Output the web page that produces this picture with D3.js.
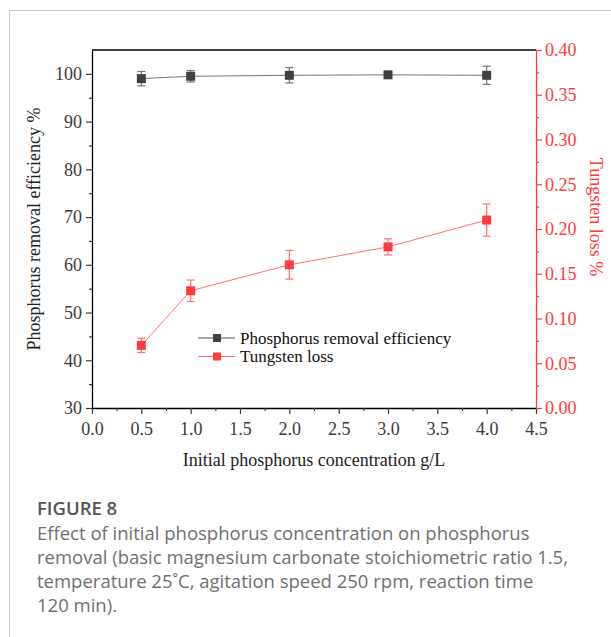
<!DOCTYPE html>
<html>
<head>
<meta charset="utf-8">
<style>
  body { margin: 0; background: #fff; }
  svg { display: block; }
</style>
</head>
<body>
<script src="https://cdn.jsdelivr.net/npm/d3@7/dist/d3.min.js"></script>
<script>
// data
var conc = [0.5, 1.0, 2.0, 3.0, 4.0];
var removal = [99.0, 99.5, 99.7, 99.8, 99.7];
var removalErr = [1.5, 1.2, 1.6, 0.3, 1.9];
var loss = [0.070, 0.131, 0.160, 0.180, 0.210];
var lossErr = [0.008, 0.012, 0.016, 0.009, 0.018];

var xTicks = [0, 0.5, 1, 1.5, 2, 2.5, 3, 3.5, 4, 4.5];
var yTicks = [30, 40, 50, 60, 70, 80, 90, 100];
var y2Ticks = [0, 0.05, 0.1, 0.15, 0.2, 0.25, 0.3, 0.35, 0.4];

var W = 611, H = 637;
var mLeft = 92, mRight = 536, mTop = 50, mBottom = 408;
var red = "#ff3b3b", dark = "#3a3a3a";

var svg = d3.select("body").append("svg").attr("width", W).attr("height", H);

// card border
svg.append("path").attr("d", "M9.5," + H + "V10.5H" + W)
  .attr("fill", "none").attr("stroke", "#c8c8c8");

var x = d3.scaleLinear().domain([0, 4.5]).range([mLeft, mRight]);
var y = d3.scaleLinear().domain([30, 105]).range([mBottom, mTop]);
var y2 = d3.scaleLinear().domain([0, 0.4]).range([mBottom, mTop]);

var font = "'Liberation Serif', 'Times New Roman', serif";

// top frame line
svg.append("line").attr("x1", mLeft).attr("x2", mRight).attr("y1", mTop).attr("y2", mTop)
  .attr("stroke", "#000").attr("stroke-width", 1.3);

function styleAxis(g, col) {
  g.select(".domain").attr("stroke", col).attr("stroke-width", 1.3);
  g.selectAll(".tick line").attr("stroke", col).attr("stroke-width", 1.2);
  g.selectAll(".tick text").attr("fill", col).style("font-family", font).style("font-size", "18px");
}

// minor ticks
function minor(axis, scale, vals, tr, col) {
  svg.append("g").attr("transform", tr)
    .call(axis(scale).tickValues(vals).tickSize(3).tickFormat("").tickSizeOuter(0))
    .call(function (g) { g.select(".domain").remove(); })
    .selectAll("line").attr("stroke", col || dark).attr("stroke-width", 1.2);
}

var gx = svg.append("g").attr("transform", "translate(0," + mBottom + ")")
  .call(d3.axisBottom(x).tickValues(xTicks).tickSize(6).tickSizeOuter(0).tickPadding(8).tickFormat(d3.format(".1f")));
styleAxis(gx, dark);
gx.select(".domain").attr("stroke", "#000");
minor(d3.axisBottom, x, d3.range(0.25, 4.5, 0.5), "translate(0," + mBottom + ")");

var gy = svg.append("g").attr("transform", "translate(" + mLeft + ",0)")
  .call(d3.axisLeft(y).tickValues(yTicks).tickSize(6).tickSizeOuter(0).tickPadding(4));
styleAxis(gy, dark);
gy.select(".domain").attr("stroke", "#000");
minor(d3.axisLeft, y, d3.range(35, 105, 10), "translate(" + mLeft + ",0)");

var gy2 = svg.append("g").attr("transform", "translate(" + mRight + ",0)")
  .call(d3.axisRight(y2).tickValues(y2Ticks).tickSize(6).tickSizeOuter(0).tickPadding(3).tickFormat(d3.format(".2f")));
styleAxis(gy2, red);
minor(d3.axisRight, y2, d3.range(0.025, 0.4, 0.05), "translate(" + mRight + ",0)", red);

// axis titles
svg.append("text").attr("transform", "translate(40," + (mTop + mBottom) / 2 + ") rotate(-90)")
  .attr("text-anchor", "middle").attr("fill", "#222")
  .style("font-family", font).style("font-size", "18px")
  .text("Phosphorus removal efficiency %");
svg.append("text").attr("transform", "translate(590,217) rotate(90)")
  .attr("text-anchor", "middle").attr("fill", red)
  .style("font-family", font).style("font-size", "18px")
  .text("Tungsten loss %");
svg.append("text").attr("x", (mLeft + mRight) / 2).attr("y", 466)
  .attr("text-anchor", "middle").attr("fill", "#222")
  .style("font-family", font).style("font-size", "18px")
  .text("Initial phosphorus concentration g/L");

function series(vals, errs, sc, lineCol, markCol) {
  var line = d3.line().x(function (d, i) { return x(conc[i]); }).y(function (d) { return sc(d); });
  svg.append("path").datum(vals).attr("d", line).attr("fill", "none")
    .attr("stroke", lineCol).attr("stroke-width", 1);
  var g = svg.append("g").selectAll("g").data(vals).join("g");
  g.append("line")
    .attr("x1", function (d, i) { return x(conc[i]); }).attr("x2", function (d, i) { return x(conc[i]); })
    .attr("y1", function (d, i) { return sc(d - errs[i]); }).attr("y2", function (d, i) { return sc(d + errs[i]); })
    .attr("stroke", lineCol).attr("stroke-width", 1.2);
  [1, -1].forEach(function (s) {
    g.append("line")
      .attr("x1", function (d, i) { return x(conc[i]) - 4; }).attr("x2", function (d, i) { return x(conc[i]) + 4; })
      .attr("y1", function (d, i) { return sc(d + s * errs[i]); }).attr("y2", function (d, i) { return sc(d + s * errs[i]); })
      .attr("stroke", lineCol).attr("stroke-width", 1.2);
  });
  g.append("rect")
    .attr("x", function (d, i) { return x(conc[i]) - 4.5; })
    .attr("y", function (d) { return sc(d) - 4.5; })
    .attr("width", 9).attr("height", 9).attr("fill", markCol);
}

series(removal, removalErr, y, "#777", "#404040");
series(loss, lossErr, y2, "#ff7070", red);

// legend
var legend = [
  { name: "Phosphorus removal efficiency", line: "#555", mark: "#404040" },
  { name: "Tungsten loss", line: "#ff7070", mark: red }
];
var lg = svg.append("g").selectAll("g").data(legend).join("g")
  .attr("transform", function (d, i) { return "translate(198," + (338 + i * 18.5) + ")"; });
lg.append("line").attr("x1", 0).attr("x2", 37).attr("stroke", function (d) { return d.line; }).attr("stroke-width", 1);
lg.append("rect").attr("x", 15).attr("y", -4).attr("width", 8).attr("height", 8).attr("fill", function (d) { return d.mark; });
lg.append("text").attr("x", 42).attr("y", 5.5).attr("fill", "#111")
  .style("font-family", font).style("font-size", "17px").text(function (d) { return d.name; });

// caption
var cap = svg.append("g").style("font-family", "'Open Sans', 'Noto Sans', sans-serif").attr("fill", "#707070");
cap.append("text").attr("x", 37).attr("y", 515).style("font-size", "18.5px").style("font-weight", "600")
  .attr("fill", "#555").text("FIGURE 8");
var capLines = [
  "Effect of initial phosphorus concentration on phosphorus",
  "removal (basic magnesium carbonate stoichiometric ratio 1.5,",
  "temperature 25\u02daC, agitation speed 250 rpm, reaction time",
  "120 min)."
];
cap.selectAll("text.l").data(capLines).join("text").attr("class", "l")
  .attr("x", 37).attr("y", function (d, i) { return 540 + i * 24; })
  .style("font-size", "18.5px").text(function (d) { return d; });
</script>
</body>
</html>
